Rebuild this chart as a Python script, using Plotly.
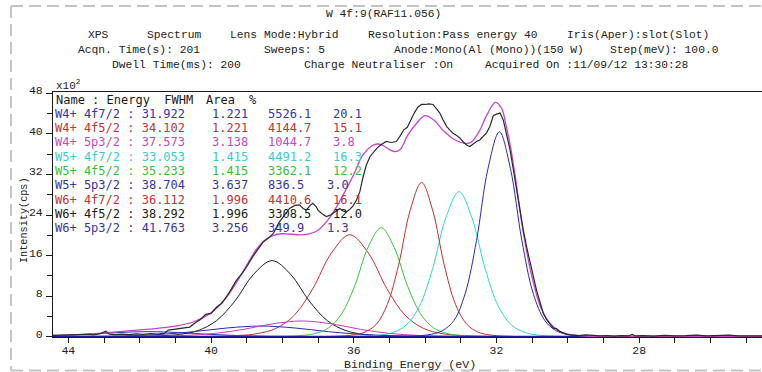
import plotly.graph_objects as go

# ---------------- quantification table ----------------
peak_names = ["W4+ 4f7/2", "W4+ 4f5/2", "W4+ 5p3/2", "W5+ 4f7/2", "W5+ 4f5/2",
              "W5+ 5p3/2", "W6+ 4f7/2", "W6+ 4f5/2", "W6+ 5p3/2"]
peak_energy = ["31.922", "34.102", "37.573", "33.053", "35.233", "38.704", "36.112", "38.292", "41.763"]
peak_fwhm = ["1.221", "1.221", "3.138", "1.415", "1.415", "3.637", "1.996", "1.996", "3.256"]
peak_area = ["5526.1", "4144.7", "1044.7", "4491.2", "3362.1", "836.5", "4410.6", "3308.5", "349.9"]
peak_pct = ["20.1", "15.1", "3.8", "16.3", "12.2", "3.0", "16.1", "12.0", "1.3"]
peak_line_colors = ["#2a2ab4", "#c43030", "#c63cc6", "#30d4d4", "#3cc43c",
                    "#2a2ab4", "#c43030", "#1e1e1e", "#2a2ab4"]
peak_text_colors = ["#3535a8", "#c03535", "#c04cc0", "#3ccccc", "#3cbc3c",
                    "#3535a8", "#c03535", "#1a1a1a", "#3535a8"]

# ---------------- fitted component curves (binding energy eV, intensity x10^2 cps) ----------------
c1_be = [24.5, 29.38, 30.02, 30.34, 30.65, 30.97, 31.29, 31.61, 31.92, 32.24, 32.56, 32.88, 33.19, 33.51, 33.83, 34.46, 44.5]
c1_int = [0, 0.08, 0.48, 1.21, 3.23, 8.48, 18.99, 33.13, 40.4, 33.13, 18.99, 8.48, 3.23, 1.21, 0.48, 0.08, 0]
c2_be = [24.5, 31.56, 32.20, 32.52, 32.83, 33.15, 33.47, 33.79, 34.10, 34.42, 34.74, 35.06, 35.37, 35.69, 36.01, 36.64, 44.5]
c2_int = [0, 0.06, 0.36, 0.91, 2.43, 6.38, 14.29, 24.93, 30.4, 24.93, 14.29, 6.38, 2.43, 0.91, 0.36, 0.06, 0]
c3_be = [24.5, 30.92, 32.55, 33.37, 34.19, 35.00, 35.82, 36.63, 37.45, 38.27, 39.08, 39.90, 40.71, 41.53, 42.35, 43.98, 44.5]
c3_int = [0, 0.01, 0.04, 0.09, 0.25, 0.65, 1.46, 2.54, 3.1, 2.54, 1.46, 0.65, 0.25, 0.09, 0.04, 0.01, 0]
c4_be = [24.5, 30.11, 30.85, 31.21, 31.58, 31.95, 32.32, 32.69, 33.05, 33.42, 33.79, 34.16, 34.53, 34.89, 35.26, 36.00, 44.5]
c4_int = [0, 0.06, 0.34, 0.86, 2.29, 6.01, 13.44, 23.45, 28.6, 23.45, 13.44, 6.01, 2.29, 0.86, 0.34, 0.06, 0]
c5_be = [24.5, 32.29, 33.03, 33.39, 33.76, 34.13, 34.50, 34.87, 35.23, 35.60, 35.97, 36.34, 36.71, 37.07, 37.44, 38.18, 44.5]
c5_int = [0, 0.04, 0.26, 0.65, 1.72, 4.52, 10.11, 17.63, 21.5, 17.63, 10.11, 4.52, 1.72, 0.65, 0.26, 0.04, 0]
c6_be = [24.5, 31.04, 32.93, 33.87, 34.82, 35.76, 36.71, 37.65, 38.60, 39.55, 40.49, 41.44, 42.38, 43.33, 44.27, 46.16]
c6_int = [0, 0.004, 0.025, 0.063, 0.17, 0.44, 0.99, 1.72, 2.1, 1.72, 0.99, 0.44, 0.17, 0.063, 0.025, 0.004]
c7_be = [24.5, 31.96, 33.00, 33.52, 34.04, 34.56, 35.07, 35.59, 36.11, 36.63, 37.15, 37.67, 38.19, 38.71, 39.23, 40.26, 44.5]
c7_int = [0, 0.04, 0.24, 0.60, 1.61, 4.22, 9.45, 16.48, 20.1, 16.48, 9.45, 4.22, 1.61, 0.60, 0.24, 0.04, 0]
c8_be = [24.5, 34.14, 35.18, 35.70, 36.22, 36.74, 37.25, 37.77, 38.29, 38.81, 39.33, 39.85, 40.37, 40.89, 41.41, 42.44, 44.5]
c8_int = [0, 0.03, 0.18, 0.45, 1.20, 3.15, 7.05, 12.3, 15.0, 12.3, 7.05, 3.15, 1.20, 0.45, 0.18, 0.03, 0]
c9_be = [24.5, 34.99, 36.68, 37.53, 38.38, 39.22, 40.07, 40.92, 41.76, 42.61, 43.46, 44.30, 45.15, 46.00]
c9_int = [0, 0.002, 0.012, 0.03, 0.08, 0.21, 0.47, 0.82, 1.0, 0.82, 0.47, 0.21, 0.08, 0.03]

comp_be = [c1_be, c2_be, c3_be, c4_be, c5_be, c6_be, c7_be, c8_be, c9_be]
comp_int = [c1_int, c2_int, c3_int, c4_int, c5_int, c6_int, c7_int, c8_int, c9_int]

# background
bg_be = [44.43, 24.56]
bg_int = [0.0, 0.0]

# envelope (fit sum)
env_be = [44.43, 44.0, 43.5, 43.0, 42.5, 42.0, 41.5, 41.0, 40.5, 40.0, 39.75, 39.5, 39.25, 39.0,
          38.75, 38.5, 38.25, 38.0, 37.75, 37.5, 37.25, 37.0, 36.75, 36.5, 36.25, 36.0, 35.75,
          35.5, 35.35, 35.2, 35.0, 34.85, 34.7, 34.5, 34.25, 34.0, 33.75, 33.5, 33.25, 33.0,
          32.85, 32.7, 32.5, 32.25, 32.03, 31.85, 31.75, 31.62, 31.5, 31.25, 31.0, 30.75, 30.5,
          30.25, 30.0, 29.5, 29.0, 24.56]
env_int = [0.25, 0.32, 0.5, 0.75, 1.05, 1.35, 1.65, 2.1, 2.9, 4.7, 6.3, 8.4, 11.1, 14.1,
           17.0, 19.0, 20.0, 20.3, 20.2, 20.1, 20.3, 21.0, 22.8, 25.4, 28.6, 32.0, 35.8,
           37.6, 38.0, 37.8, 36.9, 36.5, 36.9, 39.6, 42.0, 43.6, 42.7, 40.7, 39.2, 38.3,
           38.1, 38.4, 40.3, 44.0, 46.2, 44.9, 42.2, 37.9, 32.8, 20.6, 11.6, 5.6, 2.6,
           1.1, 0.5, 0.12, 0.05, 0.0]

# measured spectrum
raw_be = [44.43, 44.2, 44.0, 43.8, 43.6, 43.4, 43.3, 43.1, 42.95, 42.85, 42.7, 42.5, 42.3, 42.1,
          41.9, 41.7, 41.5, 41.3, 41.2, 41.0, 40.8, 40.6, 40.45, 40.3, 40.15, 40.0, 39.85, 39.7,
          39.5, 39.3, 39.1, 39.0, 38.85, 38.7, 38.55, 38.4, 38.25, 38.1, 37.95, 37.8, 37.65,
          37.52, 37.42, 37.33, 37.22, 37.15, 37.05, 37.0, 36.88, 36.77, 36.65, 36.58, 36.48,
          36.39, 36.3, 36.21, 36.1, 36.02, 35.92, 35.83, 35.74, 35.65, 35.55, 35.46, 35.35,
          35.23, 35.09, 34.95, 34.81, 34.7, 34.6, 34.5, 34.4, 34.3, 34.2, 34.1, 34.0, 33.9,
          33.78, 33.68, 33.59, 33.5, 33.4, 33.3, 33.22, 33.12, 33.03, 32.93, 32.84, 32.75,
          32.66, 32.56, 32.47, 32.38, 32.28, 32.19, 32.09, 32.0, 31.9, 31.81, 31.72, 31.62,
          31.53, 31.44, 31.35, 31.25, 31.15, 31.06, 30.97, 30.88, 30.78, 30.69, 30.6, 30.5,
          30.41, 30.32, 30.22, 30.12, 30.03, 29.9, 29.7, 29.5, 29.3, 29.1, 28.9, 28.7, 28.5,
          28.3, 28.2, 28.1, 27.9, 27.6, 27.3, 27.0, 26.7, 26.4, 26.1, 25.8, 25.5, 25.2, 24.9,
          24.56]
raw_int = [0.25, 0.3, 0.2, 0.35, 0.3, 0.45, 0.35, 0.6, 1.1, 0.5, 0.4, 0.5, 0.4, 0.55,
           0.45, 0.6, 0.5, 0.7, 1.3, 1.5, 1.6, 1.9, 2.7, 3.4, 4.4, 4.6, 5.8, 6.6,
           8.6, 11.0, 12.8, 13.8, 15.6, 17.0, 18.6, 19.4, 20.4, 22.5, 23.8, 25.3, 25.9,
           26.0, 25.3, 25.0, 25.9, 26.3, 25.6, 24.9, 24.2, 23.7, 24.0, 24.4, 24.9,
           25.3, 24.8, 24.6, 25.2, 25.8, 27.0, 28.6, 31.5, 33.8, 35.5, 36.3, 37.2,
           37.9, 38.5, 38.3, 38.5, 39.6, 40.8, 41.3, 42.9, 44.2, 45.3, 45.8, 45.8, 45.9,
           45.8, 45.0, 44.1, 42.8, 41.5, 40.7, 40.1, 39.7, 39.2, 38.4, 37.8, 37.5,
           38.0, 38.5, 38.8, 39.4, 40.2, 41.4, 43.6, 43.9, 44.1, 42.7, 40.0, 36.8,
           33.0, 28.9, 25.0, 21.0, 17.5, 14.5, 11.8, 9.2, 6.8, 4.6, 3.4, 2.6,
           1.7, 1.6, 1.0, 0.7, 0.45, 0.3, 0.2, 0.35, 0.25, 0.15, 0.2, 0.1, 0.2,
           0.15, 0.45, 0.15, 0.2, 0.1, 0.25, 0.15, 0.2, 0.3, 0.15, 0.2, 0.3, 0.15, 0.2,
           0.15]

# axis ticks
x_tick_vals = [44, 40, 36, 32, 28]
x_tick_text = ["44", "40", "36", "32", "28"]
y_tick_vals = [0, 8, 16, 24, 32, 40, 48]
y_tick_text = ["0", "8", "16", "24", "32", "40", "48"]

# header text
title_text = "W 4f:9(RAF11.056)"
header_rows = [
    [("XPS", 87), ("Spectrum", 146), ("Lens Mode:Hybrid", 229),
     ("Resolution:Pass energy 40", 367), ("Iris(Aper):slot(Slot)", 566)],
    [("Acqn. Time(s): 201", 77), ("Sweeps: 5", 263),
     ("Anode:Mono(Al (Mono))(150 W)", 393), ("Step(meV): 100.0", 609)],
    [("Dwell Time(ms): 200", 111), ("Charge Neutraliser :On", 303),
     ("Acquired On :11/09/12 13:30:28", 484)],
]
header_rows_y = [35, 50, 65]

# ---------------- figure ----------------
W, H = 762, 372
L, R, T, B = 53, 762, 92, 337


def px_x(px):
    return (px - L) / (R - L)


def px_y(py):
    return (B - py) / (B - T)


fig = go.Figure()

draw_order = [8, 7, 6, 5, 4, 3, 2, 1, 0]
for i in draw_order:
    fig.add_trace(go.Scatter(x=comp_be[i], y=comp_int[i], mode="lines",
                             line=dict(color=peak_line_colors[i], width=1, shape="spline"),
                             hoverinfo="skip", showlegend=False))

fig.add_trace(go.Scatter(x=bg_be, y=bg_int, mode="lines",
                         line=dict(color="#1c1ca0", width=2), showlegend=False, hoverinfo="skip"))
fig.add_trace(go.Scatter(x=env_be, y=env_int, mode="lines",
                         line=dict(color="#c844c8", width=1.3, shape="spline"),
                         showlegend=False, hoverinfo="skip"))
fig.add_trace(go.Scatter(x=raw_be, y=raw_int, mode="lines",
                         line=dict(color="#2a2a2a", width=1.2),
                         showlegend=False, hoverinfo="skip"))

mono = "Liberation Mono, DejaVu Sans Mono, monospace"
tick_font = dict(family=mono, size=11.5, color="#222222")

fig.update_layout(
    width=W, height=H,
    margin=dict(l=L, r=W - R, t=T, b=H - B, pad=0),
    paper_bgcolor="white", plot_bgcolor="white",
    showlegend=False,
    xaxis=dict(range=[44.43, 24.56], showgrid=False, zeroline=False,
               showline=True, linecolor="#1a1a1a", linewidth=1, mirror=True,
               ticks="outside", ticklen=5, tickcolor="#1a1a1a", tickwidth=1,
               tickvals=x_tick_vals, ticktext=x_tick_text, tickfont=tick_font,
               ticklabelstandoff=-3,
               minor=dict(dtick=1, ticks="outside", ticklen=5, tickcolor="#1a1a1a", showgrid=False)),
    yaxis=dict(range=[-0.06, 48.26], showgrid=False, zeroline=False,
               showline=True, linecolor="#1a1a1a", linewidth=1, mirror=False,
               ticks="outside", ticklen=6, tickcolor="#1a1a1a", tickwidth=1,
               tickvals=y_tick_vals, ticktext=y_tick_text, tickfont=tick_font,
               ticklabelshift=-3, ticklabelstandoff=1,
               minor=dict(dtick=4, ticks="outside", ticklen=5, tickcolor="#1a1a1a", showgrid=False)),
)

ann = []
hdr_font = dict(family=mono, size=11.3, color="#222222")
ann.append(dict(x=px_x(383), y=px_y(14), xref="paper", yref="paper", text=title_text,
                showarrow=False, xanchor="center", yanchor="middle", font=hdr_font))
for row, yy in zip(header_rows, header_rows_y):
    for txt, xx in row:
        ann.append(dict(x=px_x(xx - 1), y=px_y(yy), xref="paper", yref="paper", text=txt,
                        showarrow=False, xanchor="left", yanchor="middle", font=hdr_font))

# axis titles and multiplier
ann.append(dict(x=px_x(24), y=px_y(220), xref="paper", yref="paper", text="Intensity(cps)",
                showarrow=False, textangle=-90, xanchor="center", yanchor="middle",
                font=dict(family=mono, size=10.2, color="#222222")))
ann.append(dict(x=px_x(410), y=px_y(364), xref="paper", yref="paper", text="Binding Energy (eV)",
                showarrow=False, xanchor="center", yanchor="middle",
                font=dict(family=mono, size=11.6, color="#222222")))
ann.append(dict(x=px_x(54), y=px_y(85), xref="paper", yref="paper", text="x10<sup>2</sup>",
                showarrow=False, xanchor="left", yanchor="middle",
                font=dict(family=mono, size=11, color="#222222")))

# legend table
tbl_family = "DejaVu Sans Mono, Liberation Mono, monospace"
tbl_size = 12
row_y0, row_dy = 99.5, 14.3
hdr_tbl_font = dict(family=tbl_family, size=tbl_size, color="#1a1a1a")
for txt, xx in [("Name : Energy  FWHM", 54), ("Area", 204), ("%", 247)]:
    ann.append(dict(x=px_x(xx), y=px_y(row_y0), xref="paper", yref="paper", text=txt,
                    showarrow=False, xanchor="left", yanchor="middle", font=hdr_tbl_font))
for i in range(len(peak_names)):
    yy = row_y0 + row_dy * (i + 1)
    f = dict(family=tbl_family, size=tbl_size, color=peak_text_colors[i])
    pct_x = 325 if peak_pct[i] in ("3.0", "1.3") else 331
    cols = [(peak_names[i] + " : " + peak_energy[i], 53), (peak_fwhm[i], 210),
            (peak_area[i], 266), (peak_pct[i], pct_x)]
    for txt, xx in cols:
        ann.append(dict(x=px_x(xx), y=px_y(yy), xref="paper", yref="paper", text=txt,
                        showarrow=False, xanchor="left", yanchor="middle", font=f))

fig.update_layout(annotations=ann)

# dashed outer frame
dash_line = dict(color="#c4c4c4", width=2, dash="12px,6px")
shapes = [
    dict(type="line", xref="paper", yref="paper", x0=px_x(11), x1=px_x(762), y0=px_y(6), y1=px_y(6), line=dash_line),
    dict(type="line", xref="paper", yref="paper", x0=px_x(11), x1=px_x(762), y0=px_y(370.5), y1=px_y(370.5), line=dash_line),
    dict(type="line", xref="paper", yref="paper", x0=px_x(11), x1=px_x(11), y0=px_y(6), y1=px_y(370.5), line=dash_line),
]
fig.update_layout(shapes=shapes)

fig.write_html("out.html", config={"displayModeBar": False},
               post_script="document.body.style.margin='0';document.body.style.overflow='hidden';")
